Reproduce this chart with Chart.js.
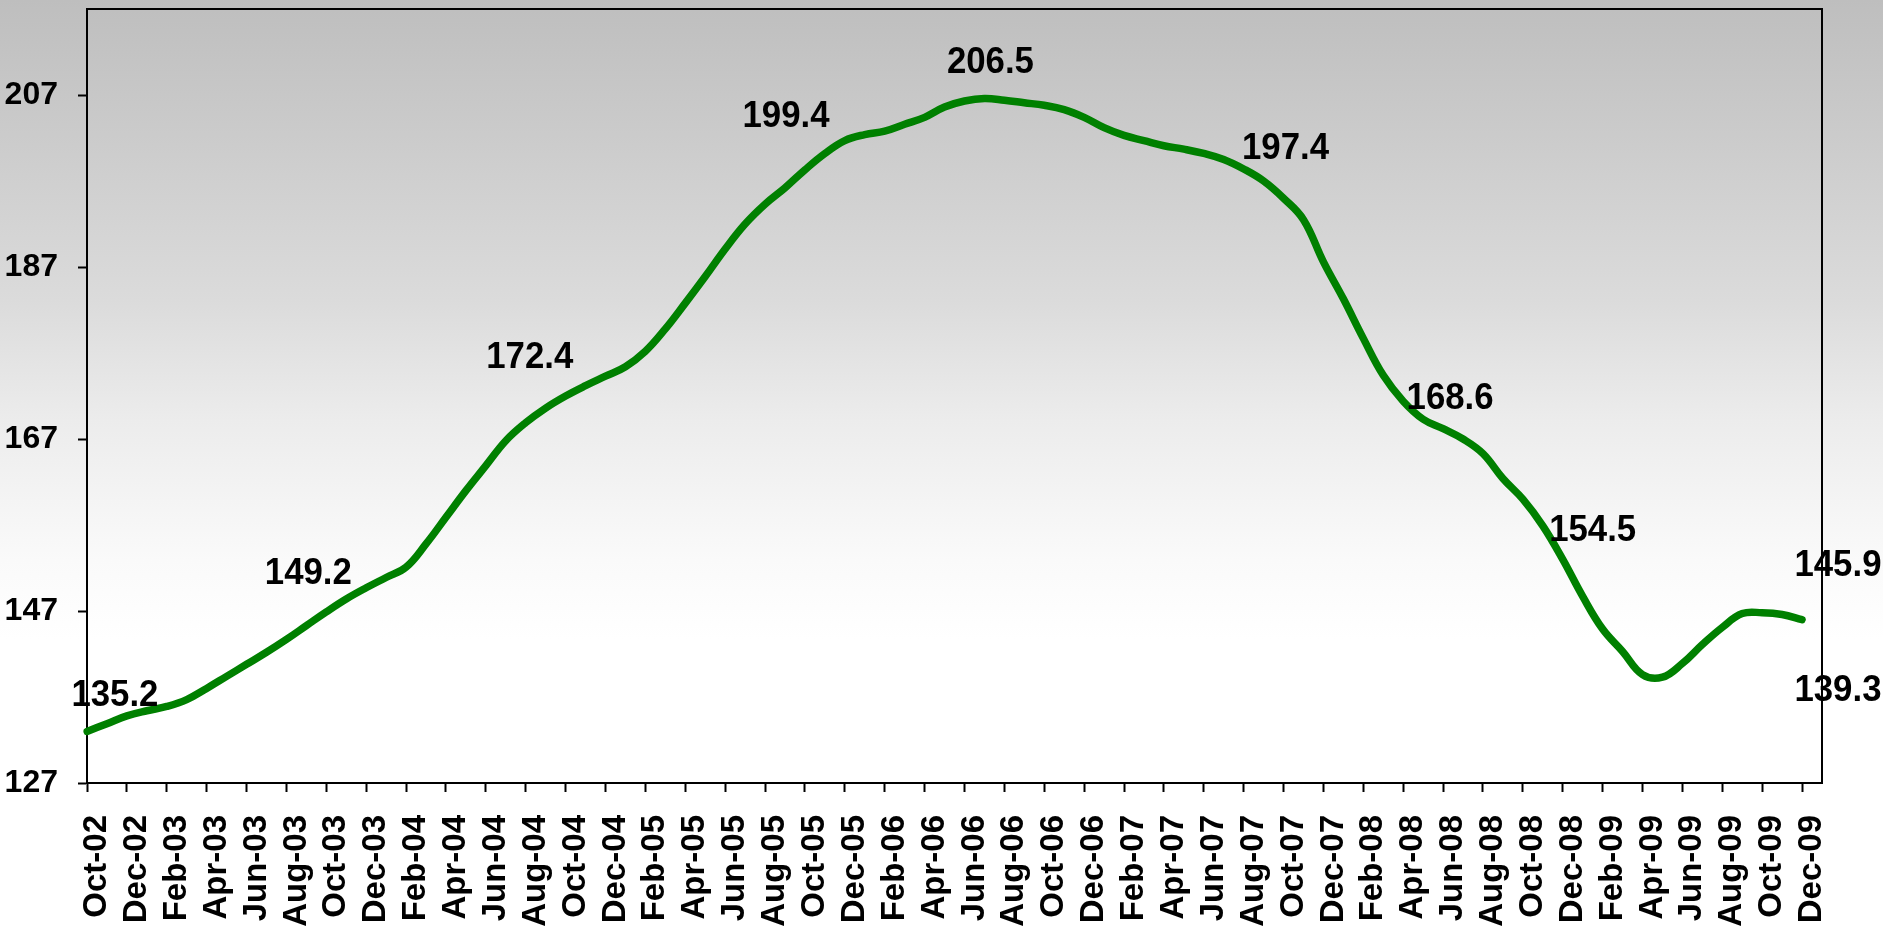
<!DOCTYPE html>
<html>
<head>
<meta charset="utf-8">
<script src="https://cdn.jsdelivr.net/npm/chart.js@4.4.1/dist/chart.umd.min.js"></script>
<style>
html, body { margin: 0; padding: 0; background: #ffffff; }
#wrap { width: 1883px; height: 930px; position: relative; }
</style>
</head>
<body>
<div id="wrap"><canvas id="c"></canvas></div>
<script>
// ---------- data ----------
const months = [
  'Oct-02','Nov-02','Dec-02',
  'Jan-03','Feb-03','Mar-03','Apr-03','May-03','Jun-03','Jul-03','Aug-03','Sep-03','Oct-03','Nov-03','Dec-03',
  'Jan-04','Feb-04','Mar-04','Apr-04','May-04','Jun-04','Jul-04','Aug-04','Sep-04','Oct-04','Nov-04','Dec-04',
  'Jan-05','Feb-05','Mar-05','Apr-05','May-05','Jun-05','Jul-05','Aug-05','Sep-05','Oct-05','Nov-05','Dec-05',
  'Jan-06','Feb-06','Mar-06','Apr-06','May-06','Jun-06','Jul-06','Aug-06','Sep-06','Oct-06','Nov-06','Dec-06',
  'Jan-07','Feb-07','Mar-07','Apr-07','May-07','Jun-07','Jul-07','Aug-07','Sep-07','Oct-07','Nov-07','Dec-07',
  'Jan-08','Feb-08','Mar-08','Apr-08','May-08','Jun-08','Jul-08','Aug-08','Sep-08','Oct-08','Nov-08','Dec-08',
  'Jan-09','Feb-09','Mar-09','Apr-09','May-09','Jun-09','Jul-09','Aug-09','Sep-09','Oct-09','Nov-09','Dec-09',
  'Jan-10'
];

const indexValues = [
  133.0, 133.9, 134.8,
  135.4, 135.9, 136.7, 138.0, 139.4, 140.8, 142.2, 143.7, 145.3, 146.9, 148.4, 149.7,
  150.9, 152.1, 154.8, 157.9, 161.0, 163.9, 166.8, 168.9, 170.6, 172.0, 173.2, 174.3,
  175.4, 177.2, 179.8, 182.8, 185.9, 189.1, 192.0, 194.3, 196.2, 198.3, 200.2, 201.7,
  202.4, 202.8, 203.6, 204.4, 205.6, 206.3, 206.6, 206.4, 206.1, 205.8, 205.3, 204.4,
  203.2, 202.3, 201.7, 201.1, 200.7, 200.2, 199.5, 198.4, 197.0, 195.0, 192.5, 187.6,
  183.3, 178.7, 174.4, 171.4, 169.3, 168.2, 167.0, 165.3, 162.4, 160.0, 156.9, 153.0,
  148.7, 144.9, 142.3, 139.6, 139.3, 140.9, 143.1, 145.1, 146.7, 146.8, 146.6, 146.0
];

const yTickValues = [127, 147, 167, 187, 207];
const yMin = 127;
const yMax = 217;

// value notes written on the chart: text, month index and level where they sit
const noteTexts = ['135.2', '149.2', '172.4', '199.4', '206.5', '197.4', '168.6', '154.5', '145.9', '139.3'];
const noteMonth = [1.4, 11.1, 22.2, 35.05, 45.3, 60.1, 68.35, 75.5, 87.8, 87.8];
const noteLevel = [137.1, 151.3, 176.4, 204.5, 210.7, 200.7, 171.7, 156.3, 152.3, 137.7];

// ---------- styles ----------
const FONT = "'Liberation Sans', Arial, Helvetica, sans-serif";
const lineColor = '#008000';

const backgroundPlugin = {
  id: 'bg',
  beforeDraw(chart) {
    const ctx = chart.ctx;
    const H = chart.height, W = chart.width;
    const g = ctx.createLinearGradient(0, 0, 0, H);
    g.addColorStop(0, 'rgb(190,190,190)');
    g.addColorStop(300 / 930, 'rgb(219,219,219)');
    g.addColorStop(420 / 930, 'rgb(236,236,236)');
    g.addColorStop(560 / 930, 'rgb(250,250,250)');
    g.addColorStop(640 / 930, 'rgb(255,255,255)');
    g.addColorStop(1, 'rgb(255,255,255)');
    ctx.save();
    ctx.fillStyle = g;
    ctx.fillRect(0, 0, W, H);
    ctx.restore();
  }
};

const frameAndNotesPlugin = {
  id: 'frameNotes',
  afterDraw(chart) {
    const ctx = chart.ctx;
    const a = chart.chartArea;
    ctx.save();
    ctx.strokeStyle = '#000';
    ctx.lineWidth = 2;
    ctx.beginPath();
    ctx.moveTo(a.left, a.top);
    ctx.lineTo(a.right, a.top);
    ctx.lineTo(a.right, a.bottom);
    ctx.stroke();

    const xs = chart.scales.x, ys = chart.scales.y;
    ctx.fillStyle = '#000';
    ctx.font = 'bold 37px ' + FONT;
    ctx.textAlign = 'center';
    ctx.textBaseline = 'middle';
    for (let k = 0; k < noteTexts.length; k++) {
      const px = xs.getPixelForValue(noteMonth[k]);
      const py = ys.getPixelForValue(noteLevel[k]);
      ctx.save();
      ctx.translate(px, py);
      ctx.scale(0.94, 1);
      ctx.fillText(noteTexts[k], 0, 0);
      ctx.restore();
    }
    ctx.restore();
  }
};

const ctx = document.getElementById('c');
new Chart(ctx, {
  type: 'line',
  data: {
    labels: months,
    datasets: [{
      data: indexValues,
      borderColor: lineColor,
      borderWidth: 7.5,
      tension: 0.4,
      pointRadius: 0,
      pointHoverRadius: 0,
      fill: false,
      borderCapStyle: 'round',
      borderJoinStyle: 'round'
    }]
  },
  options: {
    responsive: true,
    maintainAspectRatio: false,
    animation: false,
    events: [],
    layout: { padding: { top: 9, right: 61, left: 0, bottom: 0 } },
    plugins: {
      legend: { display: false },
      tooltip: { enabled: false },
      title: { display: false }
    },
    scales: {
      x: {
        type: 'category',
        offset: false,
        border: { display: true, color: '#000', width: 2 },
        grid: {
          display: true,
          drawOnChartArea: false,
          drawTicks: true,
          tickLength: 9,
          tickWidth: 2,
          tickColor: '#000'
        },
        ticks: {
          autoSkip: false,
          maxRotation: 90,
          minRotation: 90,
          padding: 23,
          labelOffset: 10,
          color: '#000',
          font: { family: FONT, size: 33, weight: 'bold' }
        },
        afterBuildTicks(scale) {
          scale.ticks = scale.ticks.filter(t => t.value % 2 === 0 && t.value < months.length - 1);
        },
        afterFit(scale) {
          scale.height = 147;
          scale.paddingLeft = 0; scale.paddingRight = 0;
          scale.paddingTop = 0; scale.paddingBottom = 0;
        }
      },
      y: {
        type: 'linear',
        min: yMin,
        max: yMax,
        border: { display: true, color: '#000', width: 2 },
        grid: {
          display: true,
          drawOnChartArea: false,
          drawTicks: true,
          tickLength: 9,
          tickWidth: 2,
          tickColor: '#000'
        },
        ticks: {
          padding: 20,
          color: '#000',
          font: { family: FONT, size: 32, weight: 'bold' }
        },
        afterBuildTicks(scale) {
          scale.ticks = yTickValues.map(v => ({ value: v }));
        },
        afterFit(scale) {
          scale.width = 87;
          scale.paddingLeft = 0; scale.paddingRight = 0;
          scale.paddingTop = 0; scale.paddingBottom = 0;
        }
      }
    }
  },
  plugins: [backgroundPlugin, frameAndNotesPlugin]
});
</script>
</body>
</html>
